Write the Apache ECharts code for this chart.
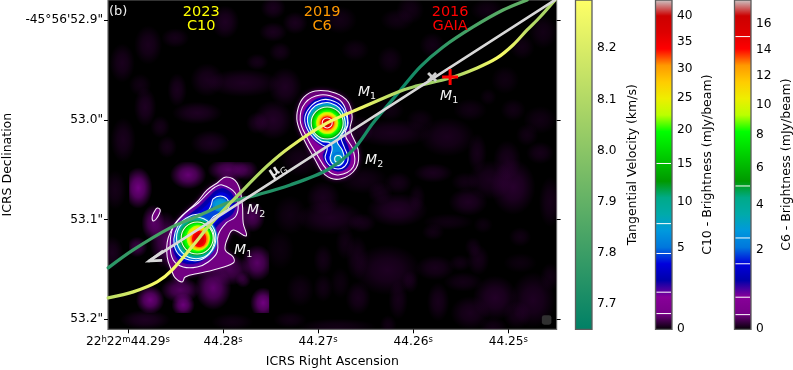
<!DOCTYPE html>
<html><head><meta charset="utf-8">
<style>html,body{margin:0;padding:0;background:#fff}#c{width:793px;height:370px}</style>
<script src="https://cdn.jsdelivr.net/npm/echarts@6/dist/echarts.min.js"></script>
</head><body><div id="c"></div>
<script>
// ---------- Axis ticks ----------
const RA_TICKS = [44.29, 44.28, 44.27, 44.26, 44.25];
const DEC_TICKS = [52.9, 53.0, 53.1, 53.2];
const RA_TICK_LABELS = ['22{s|h}22{s|m}44.29{s|s}', '44.28{s|s}', '44.27{s|s}', '44.26{s|s}', '44.25{s|s}'];
const DEC_TICK_LABELS = ['-45°56\'52.9"', '53.0"', '53.1"', '53.2"'];
const VEL_TICKS = [7.7, 7.8, 7.9, 8.0, 8.1, 8.2];
const C10_TICKS = [0, 5, 10, 15, 20, 25, 30, 35, 40];
const C6_TICKS = [0, 2, 4, 6, 8, 10, 12, 14, 16];
const C10_LEVELS = [0.4, 1.5, 4.5, 7.5, 15];
const C6_LEVELS = [0.15, 0.5, 1.5, 2.5, 5, 15];
const C10_MAX = 43.1, C6_MAX = 17.98, GAMMA = 0.65;
const VEL_MIN = 7.651, VEL_MAX = 8.294;

// ---------- Tracks: RA (s), Dec ("), tangential velocity (km/s) ----------
const M1_RA = [44.29208,44.28945,44.28693,44.28535,44.28251,44.28167,44.2782,44.27536,44.27294,44.26905,44.26527,44.26159,44.26001,44.25612,44.25328,44.25118,44.2495,44.24802,44.24666,44.24508];
const M1_DEC = [53.1785,53.1725,53.1625,53.1505,53.1184,53.1083,53.0732,53.0461,53.0271,53.003,52.987,52.9719,52.9669,52.9579,52.9478,52.9378,52.9248,52.9097,52.8967,52.8796];
const M1_VEL = [8.12,8.18,8.27,8.28,8.2,8.15,8.07,8.12,8.22,8.27,8.24,8.1,8.05,8.06,8.2,8.28,8.22,8.12,8.08,8.1];
const M2_RA = [44.29208,44.28945,44.28556,44.28241,44.27957,44.27641,44.27294,44.26905,44.26632,44.26422,44.26159,44.25927,44.25686,44.2537,44.25055,44.24802];
const M2_DEC = [53.1484,53.1304,53.1083,53.0953,53.0832,53.0752,53.0652,53.0502,53.0301,53.003,52.9729,52.9468,52.9268,52.9067,52.8897,52.8796];
const M2_VEL = [7.75,7.79,7.84,7.84,7.8,7.75,7.73,7.73,7.72,7.71,7.68,7.72,7.78,7.84,7.88,7.9];
const MU_RA = [44.24508, 44.28777];
const MU_DEC = [52.8796, 53.1414];
const GAIA_POS = [44.25612, 52.9569];
const MU_REF_POS = [44.25801, 52.9569];
const BEAM_POS = [44.24597, 53.2006];

// ---------- Emission: offsets in map cells from a reference position ----------
const RA_CELL = 1.0515e-4, DEC_CELL = 1.003e-3;
const MAP_ORIGIN = [44.27, 53.0];
const C10_ORIGIN = [44.28272, 53.1184];
const C6_ORIGIN = [44.26905, 53.003];
const C10_FOOTPRINT = [44.28987, 53.04213, 44.27515, 53.19358];

const C10_OUTER = [[29,-61],[40,-55],[45,-35],[46,-15],[49,-2],[36,-8],[31,-1],[28,12],[36,19],[36,25],[16,32],[3,35],[-12,39],[-15,44],[-22,40],[-25,34],[-30,19],[-29,0],[-19,-18],[0,-36],[10,-48],[20,-55]];
const C10_ISLAND = [[-40,-30],[-37,-28],[-38,-24],[-41,-19],[-44,-17],[-45,-21],[-43,-26]];
const C10_SECOND = [[25,-53],[38,-45],[41,-31],[38,-21],[29,-15],[21,-3],[20,14],[11,24],[0,29],[-14,29],[-24,22],[-27,7],[-24,-11],[-12,-25],[1,-35],[11,-45],[18,-51]];
const C10_BLUE_A = [[28,-49],[36,-42],[38,-31],[34,-23],[25,-17],[17,-7],[15,12],[8,20],[-1,25],[-13,25],[-21,19],[-24,7],[-21,-9],[-9,-22],[3,-32],[13,-42],[20,-48]];
const C10_BLUE_B = [[27,-45],[34,-39],[35,-31],[30,-25],[22,-19],[15,-8],[14,10],[7,18],[-1,23],[-12,23],[-19,17],[-22,7],[-19,-7],[-8,-19],[3,-27],[14,-37],[20,-44]];
const C10_THIRD = [[23,-42],[30,-39],[32,-32],[28,-26],[21,-24],[15,-20],[12,-14],[16,-6],[17,5],[12,16],[3,22],[-8,22],[-18,17],[-23,7],[-22,-6],[-16,-16],[-7,-22],[2,-24],[10,-26],[14,-33],[16,-39]];
// dx, dy, rx, ry, brightness (mJy/beam)
const C10_CORE = [[-1,0,21,22,5.1],[-1,0,20,21,6.8],[-1,0,19,20,8.6],[-1,0,18,18.5,10.5],[0,0,17,17,12.6],[0,0,16,16,14.8],[0,0,14.5,15,17.2],[0,0,13,14,19.7],[1,0,11.5,12.5,22.2],[1,0,10.5,11,24.9],[2,1,9.5,10,27.7],[2,1,8.5,9,30.6],[2,1,7,8,33.6],[2,1,5,6,36.6],[23,-33,7.5,6.5,6.0],[23,-33,5,4.5,7.0]];
const C10_RINGS = [[-1,0,19.7,20.7],[0,0,16,16]];

const C6_OUTER = [[-12,-32],[8,-30],[21,-21],[25,-6],[23,7],[31,27],[29,45],[13,56],[-2,52],[-13,35],[-23,17],[-30,-1],[-29,-15],[-23,-26]];
const C6_SECOND = [[-7,-28],[11,-24],[18,-15],[21,0],[18,12],[26,27],[26,44],[11,52],[0,47],[-10,32],[-20,15],[-27,-3],[-22,-20]];
const C6_BLUE_A = [[3,-25],[14,-20],[21,-9],[22,3],[17,13],[21,24],[23,38],[18,46],[9,48],[1,43],[-4,33],[-2,26],[-8,21],[-17,12],[-23,1],[-23,-10],[-16,-20],[-7,-25]];
const C6_THIRD = [[3,-23],[13,-18],[19,-8],[20,3],[14,14],[17,24],[21,35],[18,43],[11,46],[3,43],[-2,35],[0,25],[-5,22],[-14,15],[-21,4],[-22,-7],[-15,-18],[-6,-23]];
const C6_FOURTH = [[3,-20],[12,-15],[17,-6],[18,4],[13,13],[10,19],[15,27],[17,36],[13,42],[7,42],[3,36],[5,26],[3,20],[-6,18],[-14,11],[-19,2],[-19,-8],[-12,-17],[-4,-20]];
const C6_CORE = [[0,0,19,19,2.8],[0,0,18,18,3.6],[0,0,17,17,4.4],[0,0,16,16,5.2],[0,0,15,15,6.1],[0,0,14,14,7.1],[0,0,12.5,12.5,8.2],[0,0,11,11,9.2],[0,0,10,10,10.3],[0,0,8.5,8.5,11.5],[0,0,7.5,7.5,12.7],[0,0,6.5,6.5,13.9],[0,0,5,5,15.2],[0,0,3,3,16.5],[11,36,6,7,2.1],[11,36,4.5,5,2.8],[11,36,3,3.5,3.6]];
const C6_RINGS = [[0,0,16,16],[0,0,5,5],[11,36,3.5,3.5]];

// Faint C6 emission clumps: dx, dy, rx, ry, strength
const C6_FAINT = [[74,13,28,10,.3],[129,17,20,14,.3],[159,33,7,14,.25],[189,40,10,14,.28],[172,60,16,14,.3],[195,67,16,20,.45],[222,33,10,8,.25],[209,15,8,8,.2],[232,82,8,18,.25],[150,82,14,10,.35],[147,62,10,7,.2],[115,53,14,7,.3],[80,63,10,8,.25],[62,73,9,8,.25],[79,90,22,12,.4],[99,78,6,10,.2],[44,103,10,7,.25],[12,98,24,12,.35],[5,78,12,12,.3],[45,60,18,10,.22],[130,102,18,6,.18],[115,112,8,6,.2],[165,105,7,6,.15],[202,117,8,7,.2],[155,127,6,7,.2],[160,140,8,11,.25],[142,143,8,6,.2],[117,148,14,9,.28],[69,150,24,18,.35],[39,138,8,16,.25],[27,123,7,12,.2],[5,140,7,11,.22],[92,162,6,8,.22],[40,178,9,12,.28],[22,163,7,11,.15],[5,168,7,10,.2],[80,180,7,14,.25],[120,182,8,14,.28],[152,193,14,12,.3],[177,178,16,16,.4],[215,180,16,20,.35],[199,195,10,10,.25],[145,162,14,7,.22],[232,157,7,10,.2],[175,207,10,7,.2],[202,143,12,7,.15],[70,205,6,7,.2],[19,207,28,6,.22],[92,-110,10,10,.22],[72,-60,9,10,.22],[114,-75,9,9,.22],[169,-110,12,8,.2],[225,-88,10,12,.22],[204,-73,9,9,.2],[170,-23,6,6,.15],[195,-10,9,8,.2],[79,-100,12,8,.2],[37,-70,10,8,.2],[22,-100,12,10,.22],[187,-40,10,10,.18],[152,-10,12,8,.2],[102,0,10,8,.18],[222,0,12,10,.2],[72,-10,10,8,.18],[-196,-57,9,14,.3],[-170,-75,10,14,.3],[-143,-82,10,7,.25],[-93,-98,10,12,.35],[-45,-112,9,8,.3],[-45,-88,10,7,.3],[-23,-97,9,8,.3],[-75,-37,26,10,.35],[-111,-40,12,12,.3],[-141,-30,7,12,.3],[-173,-13,8,14,.35],[-121,-7,18,8,.35],[-195,20,9,16,.3],[-158,7,7,8,.25],[-108,23,14,9,.32],[-151,27,7,8,.25],[-45,0,14,14,.4],[-61,3,8,8,.3],[-33,-33,12,14,.35],[-38,-68,8,7,.25],[-61,-58,8,6,.25],[-178,-35,8,8,.2],[-203,70,8,14,.25],[-206,133,8,12,.3],[-173,200,18,7,.35],[-86,202,15,6,.2],[-28,200,12,6,.2],[-38,130,10,14,.15],[-18,170,10,12,.2],[-28,95,12,14,.2],[-18,40,14,12,.25],[42,10,10,10,.3]];
// Brighter C10 clumps inside the C10 map footprint
const C10_FAINT = [[-180,68,11,16,.95],[-130,55,14,11,.85],[-90,50,16,9,.7],[-165,103,9,14,.75],[-168,180,11,11,.9],[-135,185,9,9,.9],[-105,168,14,17,.8],[-55,183,10,12,.95],[-61,143,12,14,.75],[-75,160,6,6,.4],[-66,97,10,12,.65],[-181,127,8,8,.5],[-153,120,12,22,.6],[-138,170,15,10,.7],[-88,150,15,12,.6],[-73,50,10,8,.5]];

// ---------- Labels ----------
const EPOCH_RA = [44.2823, 44.26958, 44.25612];
const EPOCH_YEARS = ['2023', '2019', '2016'];
const EPOCH_NAMES = ['C10', 'C6', 'GAIA'];
const EPOCH_COLORS = ['#ffff00', '#ff9900', '#ff0000'];
const EPOCH_DEC = [52.8917, 52.9057];
const MASS_LABELS = [['1',44.26485,52.9719],['2',44.26411,53.0401],['1',44.25622,52.9759],['2',44.27652,53.0903],['1',44.27789,53.1304]];
const MU_LABEL_POS = [44.27431, 53.0502];
const PANEL_POS = [44.29103, 52.8917];

// ---------- Colour maps ----------
const NIPY = ['#000000','#770088','#880099','#0000aa','#0000dd','#0077dd','#0099dd','#00aaaa','#00aa88','#009900','#00bb00','#00dd00','#00ff00','#bbff00','#eeee00','#ffcc00','#ff9900','#ff0000','#dd0000','#cc0000','#cccccc'];
const hex = h => [1,3,5].map(i => parseInt(h.substr(i,2),16));
function mix(a,b,t){const A=hex(a),B=hex(b);return 'rgb('+A.map((x,i)=>Math.round(x+(B[i]-x)*t)).join(',')+')';}
function nipy(n){n=Math.max(0,Math.min(1,n));const f=n*20,i=Math.min(19,Math.floor(f));return mix(NIPY[i],NIPY[i+1],f-i);}
const SUMMER_LOW='#008066', SUMMER_HIGH='#ffff66';
const summer = v => mix(SUMMER_LOW,SUMMER_HIGH,(v-VEL_MIN)/(VEL_MAX-VEL_MIN));
const normC10 = v => Math.pow(v/C10_MAX,GAMMA);
const normC6 = v => Math.pow(v/C6_MAX,GAMMA);

const FONT = '"DejaVu Sans"';
const NAME_SIZE = 12.5;
const G = echarts.graphic;
const chart = echarts.init(document.getElementById('c'),null,{renderer:'canvas'});

const at = (o,dx,dy) => [o[0]-dx*RA_CELL, o[1]+dy*DEC_CELL];

function clumpSeries(list, dim, grow, clipRect){
  return {type:'custom',xAxisIndex:0,yAxisIndex:0,clip:true,silent:true,z:1,data:list.map((_,i)=>[i,0]),
    renderItem(params,api){
      const r=list[api.value(0)];
      const c=api.coord(at(MAP_ORIGIN,r[0],r[1]));
      const e=api.coord(at(MAP_ORIGIN,r[0]+r[2],r[1]+r[3]));
      const a=r[4]*dim;
      const el={type:'circle',shape:{cx:0,cy:0,r:1},x:c[0],y:c[1],scaleX:Math.abs(e[0]-c[0])*grow,scaleY:Math.abs(e[1]-c[1])*grow,
        style:{fill:new G.RadialGradient(0.5,0.5,0.5,[
          {offset:0,color:'rgba(119,0,136,'+a+')'},
          {offset:0.45,color:'rgba(119,0,136,'+(a*0.72)+')'},
          {offset:1,color:'rgba(119,0,136,0)'}])}};
      if(!clipRect) return el;
      const p0=api.coord([clipRect[0],clipRect[1]]),p1=api.coord([clipRect[2],clipRect[3]]);
      return {type:'group',children:[el],clipPath:{type:'rect',shape:{x:p0[0],y:p0[1],width:p1[0]-p0[0],height:p1[1]-p0[1]}}};
    }};
}
function fillSeries(rows){
  return {type:'custom',xAxisIndex:0,yAxisIndex:0,clip:true,silent:true,z:1,data:rows.map((_,i)=>[i,0]),
    renderItem(params,api){
      const r=rows[api.value(0)];
      return {type:'polygon',shape:{points:r[1].map(p=>api.coord(at(r[0],p[0],p[1]))),smooth:0.4},
        style:{fill:r[2],shadowBlur:r[3]||2,shadowColor:r[2]}};
    }};
}
function ellipseSeries(origin,list,norm){
  return {type:'custom',xAxisIndex:0,yAxisIndex:0,clip:true,silent:true,z:1,data:list.map((_,i)=>[i,0]),
    renderItem(params,api){
      const r=list[api.value(0)];
      const c=api.coord(at(origin,r[0],r[1]));
      const e=api.coord(at(origin,r[0]+r[2],r[1]+r[3]));
      const col=nipy(norm(r[4]));
      return {type:'ellipse',shape:{cx:c[0],cy:c[1],rx:Math.abs(e[0]-c[0]),ry:Math.abs(e[1]-c[1])},
        style:{fill:col,shadowBlur:1.5,shadowColor:col}};
    }};
}
function contourSeries(rows,rings){
  return {type:'custom',xAxisIndex:0,yAxisIndex:0,clip:true,silent:true,z:1,data:[[0,0]],
    renderItem(params,api){
      const kids=[];
      rows.forEach(r=>kids.push({type:'polygon',shape:{points:r[1].map(p=>api.coord(at(r[0],p[0],p[1]))),smooth:0.4},
        style:{fill:'none',stroke:'rgba(255,255,255,0.95)',lineWidth:1.05}}));
      rings.forEach(r=>{
        const c=api.coord(at(r[0],r[1],r[2])),e=api.coord(at(r[0],r[1]+r[3],r[2]+r[4]));
        kids.push({type:'ellipse',shape:{cx:c[0],cy:c[1],rx:Math.abs(e[0]-c[0]),ry:Math.abs(e[1]-c[1])},
          style:{fill:'none',stroke:'rgba(255,255,255,0.95)',lineWidth:1.05}});
      });
      return {type:'group',children:kids};
    }};
}
function trackSeries(ra,dec,vel){
  const span=ra[0]-ra[ra.length-1];
  return {type:'line',xAxisIndex:0,yAxisIndex:0,silent:true,showSymbol:false,symbol:'none',smooth:0.3,clip:true,z:2,
    data:ra.map((x,i)=>[x,dec[i]]),
    lineStyle:{width:3.2,cap:'round',color:new G.LinearGradient(0,0,1,0,ra.map((x,i)=>({offset:(ra[0]-x)/span,color:summer(vel[i])})))}};
}
function colorbar(gridIdx,stops,lo,hi,levels){
  return {type:'custom',xAxisIndex:gridIdx,yAxisIndex:gridIdx+1,clip:false,silent:true,data:[[0,lo]],
    renderItem(params,api){
      const a=api.coord([0,hi]),b=api.coord([1,lo]);
      const y=levels?levels.map(n=>api.coord([0,n])[1]):[];
      const kids=[{type:'rect',shape:{x:a[0],y:a[1],width:b[0]-a[0],height:b[1]-a[1]},
        style:{fill:new G.LinearGradient(0,1,0,0,stops),stroke:'#5c5c5c',lineWidth:1.3}}];
      y.forEach(py=>kids.push({type:'line',shape:{x1:a[0]+1,y1:py,x2:b[0]-1,y2:py},style:{stroke:'#fff',lineWidth:1}}));
      return {type:'group',children:kids};
    }};
}
const nipyStops=NIPY.map((c,i)=>({offset:i/20,color:c}));
const velStops=[{offset:0,color:SUMMER_LOW},{offset:1,color:SUMMER_HIGH}];

const cbY=(min,max,vals,name,gap,fmt)=>({gridIndex:0,type:'value',position:'right',min,max,
  axisLine:{show:false},splitLine:{show:false},
  axisTick:{show:true,length:4,customValues:vals,lineStyle:{color:'#000',width:1}},
  axisLabel:{show:true,customValues:vals,margin:5,fontFamily:FONT,fontSize:12.2,color:'#000',formatter:fmt},
  name,nameLocation:'middle',nameGap:gap,nameRotate:90,nameTextStyle:{fontFamily:FONT,fontSize:NAME_SIZE,color:'#000'}});

const yVel=cbY(VEL_MIN,VEL_MAX,VEL_TICKS,'Tangential Velocity (km/s)',34,v=>v.toFixed(1)); yVel.gridIndex=1;
const yC10=cbY(0,1,C10_TICKS.map(normC10),'C10 - Brightness (mJy/beam)',29,v=>String(Math.round(C10_MAX*Math.pow(v,1/GAMMA)))); yC10.gridIndex=2;
const yC6=cbY(0,1,C6_TICKS.map(normC6),'C6 - Brightness (mJy/beam)',29,v=>String(Math.round(C6_MAX*Math.pow(v,1/GAMMA)))); yC6.gridIndex=3;

const hiddenX=i=>({gridIndex:i,type:'value',min:0,max:1,show:false});

const option={
  animation:false,
  backgroundColor:'#fff',
  grid:[
    {left:108,top:0,width:448.6,height:329.3,show:true,backgroundColor:'#000',borderColor:'#666',borderWidth:1.2,outerBoundsMode:'none'},
    {left:575.5,top:0,width:16.5,height:329.3,outerBoundsMode:'none'},
    {left:655.5,top:0,width:16.5,height:329.3,outerBoundsMode:'none'},
    {left:734.5,top:0,width:16.5,height:329.3,outerBoundsMode:'none'}
  ],
  xAxis:[
    {gridIndex:0,type:'value',inverse:true,min:44.24492,max:44.2921,splitLine:{show:false},axisLine:{show:false},
      axisTick:{show:true,length:4,customValues:RA_TICKS,lineStyle:{color:'#000'}},
      axisLabel:{show:true,customValues:RA_TICKS,margin:6,fontFamily:FONT,fontSize:12.2,color:'#000',
        formatter:v=>RA_TICK_LABELS[RA_TICKS.findIndex(t=>Math.abs(t-v)<1e-6)],
        rich:{s:{fontFamily:FONT,fontSize:8.5,verticalAlign:'top',lineHeight:13,color:'#000'}},lineHeight:13},
      name:'ICRS Right Ascension',nameLocation:'middle',nameGap:26,nameTextStyle:{fontFamily:FONT,fontSize:NAME_SIZE,color:'#000'}},
    hiddenX(1),hiddenX(2),hiddenX(3)
  ],
  yAxis:[
    {gridIndex:0,type:'value',inverse:true,min:52.87964,max:53.21003,splitLine:{show:false},axisLine:{show:false},
      axisTick:{show:true,length:4,customValues:DEC_TICKS,lineStyle:{color:'#000'}},
      axisLabel:{show:true,customValues:DEC_TICKS,margin:5,fontFamily:FONT,fontSize:12.2,color:'#000',
        formatter:v=>DEC_TICK_LABELS[DEC_TICKS.findIndex(t=>Math.abs(t-v)<1e-6)]},
      name:'ICRS Declination',nameLocation:'middle',nameGap:92,nameRotate:90,nameTextStyle:{fontFamily:FONT,fontSize:NAME_SIZE,color:'#000'}},
    {gridIndex:0,type:'value',inverse:true,position:'right',min:52.87964,max:53.21003,splitLine:{show:false},axisLine:{show:false},
      axisTick:{show:true,length:4,customValues:DEC_TICKS,lineStyle:{color:'#000'}},axisLabel:{show:false}},
    yVel,yC10,yC6
  ],
  series:[
    clumpSeries(C6_FAINT,0.72,1.4),
    clumpSeries(C10_FAINT,1,1.3,C10_FOOTPRINT),
    fillSeries([
      [C10_ORIGIN,C10_ISLAND,nipy(normC10(0.4))],
      [C10_ORIGIN,C10_OUTER,nipy(normC10(0.4)),5],
      [C6_ORIGIN,C6_OUTER,nipy(normC6(0.15)),5],
      [C10_ORIGIN,C10_SECOND,nipy(normC10(1.5))],
      [C6_ORIGIN,C6_SECOND,nipy(normC6(0.5))],
      [C10_ORIGIN,C10_BLUE_A,nipy(normC10(2.3))],
      [C6_ORIGIN,C6_BLUE_A,nipy(normC6(1.0))],
      [C10_ORIGIN,C10_BLUE_B,nipy(normC10(3.6))],
      [C6_ORIGIN,C6_THIRD,nipy(normC6(1.5))],
      [C10_ORIGIN,C10_THIRD,nipy(normC10(4.5))],
      [C6_ORIGIN,C6_FOURTH,nipy(normC6(2.5))]
    ]),
    ellipseSeries(C10_ORIGIN,C10_CORE,normC10),
    ellipseSeries(C6_ORIGIN,C6_CORE,normC6),
    contourSeries([
      [C10_ORIGIN,C10_OUTER],[C10_ORIGIN,C10_ISLAND],[C10_ORIGIN,C10_SECOND],[C10_ORIGIN,C10_THIRD],
      [C6_ORIGIN,C6_OUTER],[C6_ORIGIN,C6_SECOND],[C6_ORIGIN,C6_THIRD],[C6_ORIGIN,C6_FOURTH]
    ],C10_RINGS.map(r=>[C10_ORIGIN].concat(r)).concat(C6_RINGS.map(r=>[C6_ORIGIN].concat(r)))),
    trackSeries(M2_RA,M2_DEC,M2_VEL),
    trackSeries(M1_RA,M1_DEC,M1_VEL),
    {type:'custom',xAxisIndex:0,yAxisIndex:0,clip:true,silent:true,z:5,data:[[0,0]],
      renderItem(params,api){
        const a=api.coord([MU_RA[0],MU_DEC[0]]),b=api.coord([MU_RA[1],MU_DEC[1]]);
        const g=api.coord(GAIA_POS),m=api.coord(MU_REF_POS);
        const gray='#d8d8d8';
        const st={stroke:gray,lineWidth:2.7,lineCap:'round'};
        return {type:'group',children:[
          {type:'line',shape:{x1:a[0],y1:a[1],x2:b[0],y2:b[1]},style:st},
          {type:'polyline',shape:{points:[[b[0]+14,b[1]-10],[b[0],b[1]],[b[0]+13,b[1]-0.5]]},style:{stroke:gray,lineWidth:2.7,fill:'none',lineJoin:'miter'}},
          {type:'rect',shape:{x:g[0]-8,y:g[1]-1.5,width:16,height:3},style:{fill:'#ff0000'}},
          {type:'rect',shape:{x:g[0]-1.5,y:g[1]-8,width:3,height:16},style:{fill:'#ff0000'}},
          {type:'line',shape:{x1:m[0]-4,y1:m[1]-4,x2:m[0]+4,y2:m[1]+4},style:{stroke:'#cfcfcf',lineWidth:2.8}},
          {type:'line',shape:{x1:m[0]-4,y1:m[1]+4,x2:m[0]+4,y2:m[1]-4},style:{stroke:'#cfcfcf',lineWidth:2.8}}
        ]};
      }},
    {type:'scatter',xAxisIndex:0,yAxisIndex:0,silent:true,z:5,symbol:'roundRect',symbolSize:9.5,data:[BEAM_POS],itemStyle:{color:'#3c3c3c'}},
    {type:'custom',xAxisIndex:0,yAxisIndex:0,clip:false,silent:true,z:6,data:[[0,0]],
      renderItem(params,api){
        const kids=[];
        const tx=(p,text,color,size)=>{const c=api.coord(p);return {type:'text',x:c[0],y:c[1],style:{text,fill:color,font:size+'px '+FONT,align:'center',verticalAlign:'middle'}};};
        EPOCH_RA.forEach((r,i)=>{
          kids.push(tx([r,EPOCH_DEC[0]],EPOCH_YEARS[i],EPOCH_COLORS[i],14.5));
          kids.push(tx([r,EPOCH_DEC[1]],EPOCH_NAMES[i],EPOCH_COLORS[i],14.5));
        });
        kids.push(tx(PANEL_POS,'(b)','#eeeeee',13));
        MASS_LABELS.forEach(l=>{
          const c=api.coord([l[1],l[2]]);
          kids.push({type:'text',x:c[0],y:c[1],style:{text:'{m|M}{n|'+l[0]+'}',align:'center',verticalAlign:'middle',fill:'#f4f4f4',
            rich:{m:{font:'italic 14px '+FONT,fill:'#f4f4f4',lineHeight:20,verticalAlign:'middle'},
                  n:{font:'9.5px '+FONT,fill:'#f4f4f4',lineHeight:20,verticalAlign:'bottom'}}}});
        });
        const u=api.coord(MU_LABEL_POS);
        kids.push({type:'text',x:u[0],y:u[1],rotation:0.57,style:{text:'{m|μ}{n|G}',align:'center',verticalAlign:'middle',fill:'#e8e8e8',
          rich:{m:{font:'bold 14px '+FONT,fill:'#e8e8e8',lineHeight:20},n:{font:'9.5px '+FONT,fill:'#e8e8e8',lineHeight:20,verticalAlign:'bottom'}}}});
        return {type:'group',children:kids};
      }},
    colorbar(1,velStops,VEL_MIN,VEL_MAX),
    colorbar(2,nipyStops,0,1,C10_LEVELS.map(normC10)),
    colorbar(3,nipyStops,0,1,C6_LEVELS.map(normC6))
  ]
};
chart.setOption(option);
</script></body></html>
